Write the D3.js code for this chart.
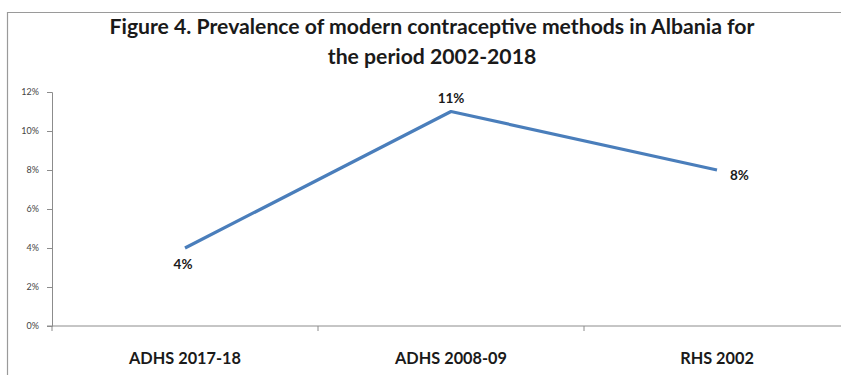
<!DOCTYPE html>
<html>
<head>
<meta charset="utf-8">
<script src="https://cdn.jsdelivr.net/npm/d3@7/dist/d3.min.js"></script>
<style>
  html, body { margin: 0; padding: 0; background: #fff; }
  svg { display: block; }
</style>
</head>
<body>
<svg id="chart" width="841" height="375"></svg>
<script>
// Survey rounds and modern contraceptive prevalence (%)
const categories = ["ADHS 2017-18", "ADHS 2008-09", "RHS 2002"];
const prevalence = [4, 11, 8];
const yTicks = [0, 2, 4, 6, 8, 10, 12];
const titleLines = [
  "Figure 4. Prevalence of modern contraceptive methods in Albania for",
  "the period 2002-2018"
];

const svg = d3.select("#chart");
const W = 841, H = 375;
const margin = { left: 52, right: -9, top: 92, bottom: 49 };

// Outer frame of the chart area
svg.append("line").attr("x1", 7).attr("x2", W).attr("y1", 12.5).attr("y2", 12.5)
  .attr("stroke", "#9a9a9a").attr("stroke-width", 1.2);
svg.append("line").attr("x1", 7.5).attr("x2", 7.5).attr("y1", 12).attr("y2", H)
  .attr("stroke", "#9a9a9a").attr("stroke-width", 1.2);

// Title
const title = svg.append("text")
  .attr("text-anchor", "middle")
  .attr("font-family", "Lato, 'Open Sans', sans-serif")
  .attr("font-weight", "bold")
  .attr("font-size", 21.2)
  .attr("fill", "#1a1a1a");
titleLines.forEach((t, i) => {
  title.append("tspan").attr("x", 432).attr("y", 34 + i * 30).text(t);
});

const x = d3.scaleBand()
  .domain(categories)
  .range([margin.left, W - margin.right])
  .paddingInner(0).paddingOuter(0);

const y = d3.scaleLinear()
  .domain([0, 12])
  .range([H - margin.bottom, margin.top]);

// Y axis
const yAxis = svg.append("g")
  .attr("transform", `translate(${margin.left},0)`)
  .call(d3.axisLeft(y).tickValues(yTicks).tickFormat(d => d + "%").tickSize(5).tickPadding(8));
yAxis.select(".domain").attr("stroke", "#8c8c8c");
yAxis.selectAll(".tick line").attr("stroke", "#8c8c8c");
yAxis.selectAll(".tick text")
  .attr("font-family", "Lato, 'Open Sans', sans-serif")
  .attr("font-size", 9)
  .attr("fill", "#444");

// X axis with ticks on band boundaries
const boundaries = categories.map(c => x(c)).concat([x.range()[1]]);
const xg = svg.append("g").attr("transform", `translate(0,${y(0)})`);
xg.append("line").attr("x1", margin.left - 5).attr("x2", W)
  .attr("stroke", "#8c8c8c");
xg.selectAll("line.tk").data(boundaries).join("line").attr("class", "tk")
  .attr("x1", d => d).attr("x2", d => d).attr("y1", 0).attr("y2", 5)
  .attr("stroke", "#8c8c8c");
xg.selectAll("text").data(categories).join("text")
  .attr("x", d => x(d) + x.bandwidth() / 2)
  .attr("y", 38)
  .attr("text-anchor", "middle")
  .attr("font-family", "Lato, 'Open Sans', sans-serif")
  .attr("font-weight", "bold")
  .attr("font-size", 16.3)
  .attr("fill", "#1a1a1a")
  .text(d => d);

// Line series
const pts = categories.map((c, i) => ({ c, v: prevalence[i] }));
const line = d3.line()
  .x(d => x(d.c) + x.bandwidth() / 2)
  .y(d => y(d.v));
svg.append("path").datum(pts)
  .attr("d", line)
  .attr("fill", "none")
  .attr("stroke", "#4a7ebb")
  .attr("stroke-width", 3.2)
  .attr("stroke-linejoin", "round");

// Value labels
const labelPos = [
  { dx: -2, dy: 21, anchor: "middle" },
  { dx: 0, dy: -9, anchor: "middle" },
  { dx: 13, dy: 10, anchor: "start" }
];
svg.selectAll("text.val").data(pts).join("text").attr("class", "val")
  .attr("x", (d, i) => x(d.c) + x.bandwidth() / 2 + labelPos[i].dx)
  .attr("y", (d, i) => y(d.v) + labelPos[i].dy)
  .attr("text-anchor", (d, i) => labelPos[i].anchor)
  .attr("font-family", "Lato, 'Open Sans', sans-serif")
  .attr("font-weight", "bold")
  .attr("font-size", 13.5)
  .attr("fill", "#1a1a1a")
  .text(d => d.v + "%");
</script>
</body>
</html>
